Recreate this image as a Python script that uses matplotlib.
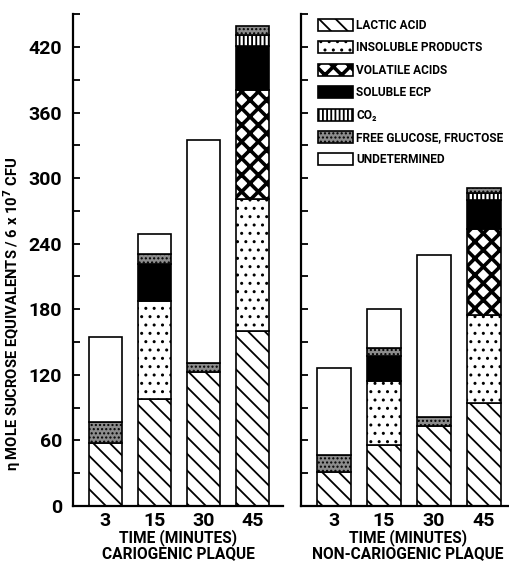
import matplotlib
matplotlib.use("Agg")
import matplotlib.pyplot as plt
import matplotlib.patches as mpatches
import numpy as np

# stacked components, bottom to top
times = ["3", "15", "30", "45"]
components = ["LACTIC ACID", "INSOLUBLE PRODUCTS", "VOLATILE ACIDS", "SOLUBLE ECP",
              "CO\u2082", "FREE GLUCOSE, FRUCTOSE", "UNDETERMINED"]

cario_lactic = [58, 98, 123, 160]
cario_insoluble = [0, 90, 0, 121]
cario_volatile = [0, 0, 0, 100]
cario_ecp = [0, 33, 0, 40]
cario_co2 = [0, 0, 0, 10]
cario_glucose = [19, 10, 8, 8]
cario_undet = [78, 18, 204, 0]

noncario_lactic = [31, 56, 73, 94]
noncario_insoluble = [0, 58, 0, 81]
noncario_volatile = [0, 0, 0, 78]
noncario_ecp = [0, 23, 0, 27]
noncario_co2 = [0, 0, 0, 6]
noncario_glucose = [16, 8, 8, 5]
noncario_undet = [79, 35, 149, 0]

# (facecolor, hatch, hatch linewidth)
STYLES = [
    ("white", "\\\\", 1.3),
    ("white", "..", 1.0),
    ("white", "xx", 2.6),
    ("black", "", 1.0),
    ("white", "||||", 1.3),
    ("0.55", "....", 1.0),
    ("white", "", 1.0),
]

plt.rcParams["font.family"] = ["Roboto", "DejaVu Sans"]
plt.rcParams["font.weight"] = "bold"
plt.rcParams["axes.labelweight"] = "bold"


def stacked(ax, series):
    x = np.arange(len(times))
    bottom = np.zeros(len(times))
    for vals, (fc, hatch, hlw) in zip(series, STYLES):
        vals = np.array(vals, dtype=float)
        bars = ax.bar(x, vals, 0.68, bottom=bottom, color=fc, edgecolor="black",
                      hatch=hatch, linewidth=1.2)
        for b in bars:
            if hasattr(b, "set_hatch_linewidth"):
                b.set_hatch_linewidth(hlw)
            if b.get_height() == 0:
                b.set_visible(False)
        bottom += vals


def style_axis(ax, xlabel, labels=True):
    ax.set_xlim(-0.66, 3.62)
    ax.set_ylim(0, 450)
    for s in ("top", "right"):
        ax.spines[s].set_visible(False)
    for s in ("left", "bottom"):
        ax.spines[s].set_linewidth(1.6)
    ax.set_xticks(range(len(times)))
    ax.set_xticklabels(times, fontsize=14)
    ax.tick_params(axis="x", length=0, pad=4)
    ax.set_yticks(np.arange(0, 451, 30))
    if labels:
        ax.set_yticklabels([str(v) if v % 60 == 0 and v <= 420 else ""
                            for v in range(0, 451, 30)], fontsize=14)
    else:
        ax.set_yticklabels([])
    ax.tick_params(axis="y", direction="in", length=5, width=1.3, pad=8)
    ax.set_xlabel(xlabel, fontsize=11.2, linespacing=1.0, labelpad=0)


fig = plt.figure(figsize=(5.1, 5.66), dpi=100)
ax1 = fig.add_axes([0.143, 0.106, 0.412, 0.869])
ax2 = fig.add_axes([0.590, 0.106, 0.42, 0.869])

stacked(ax1, [cario_lactic, cario_insoluble, cario_volatile, cario_ecp,
              cario_co2, cario_glucose, cario_undet])
stacked(ax2, [noncario_lactic, noncario_insoluble, noncario_volatile, noncario_ecp,
              noncario_co2, noncario_glucose, noncario_undet])

style_axis(ax1, "TIME (MINUTES)\nCARIOGENIC PLAQUE")
style_axis(ax2, "TIME (MINUTES)\nNON-CARIOGENIC PLAQUE", labels=False)
ax1.set_ylabel("\u03b7 MOLE SUCROSE EQUIVALENTS / 6 x 10$^7$ CFU", fontsize=10.6)
ax1.yaxis.set_label_coords(-0.24, 0.39)

handles = []
for name, (fc, hatch, hlw) in zip(components, STYLES):
    p = mpatches.Patch(facecolor=fc, edgecolor="black", hatch=hatch, linewidth=1.2,
                       label=name)
    handles.append(p)
leg = ax2.legend(handles=handles, loc="upper left", bbox_to_anchor=(0.08, 0.99),
                 frameon=False, prop={"weight": "bold", "size": 8.6},
                 handlelength=2.9, handleheight=1.17, handletextpad=0.3,
                 labelspacing=0.78, borderpad=0, borderaxespad=0)
for h, (fc, hatch, hlw) in zip(leg.get_patches(), STYLES):
    if hasattr(h, "set_hatch_linewidth"):
        h.set_hatch_linewidth(hlw)

fig.savefig("out.png", dpi=100)
